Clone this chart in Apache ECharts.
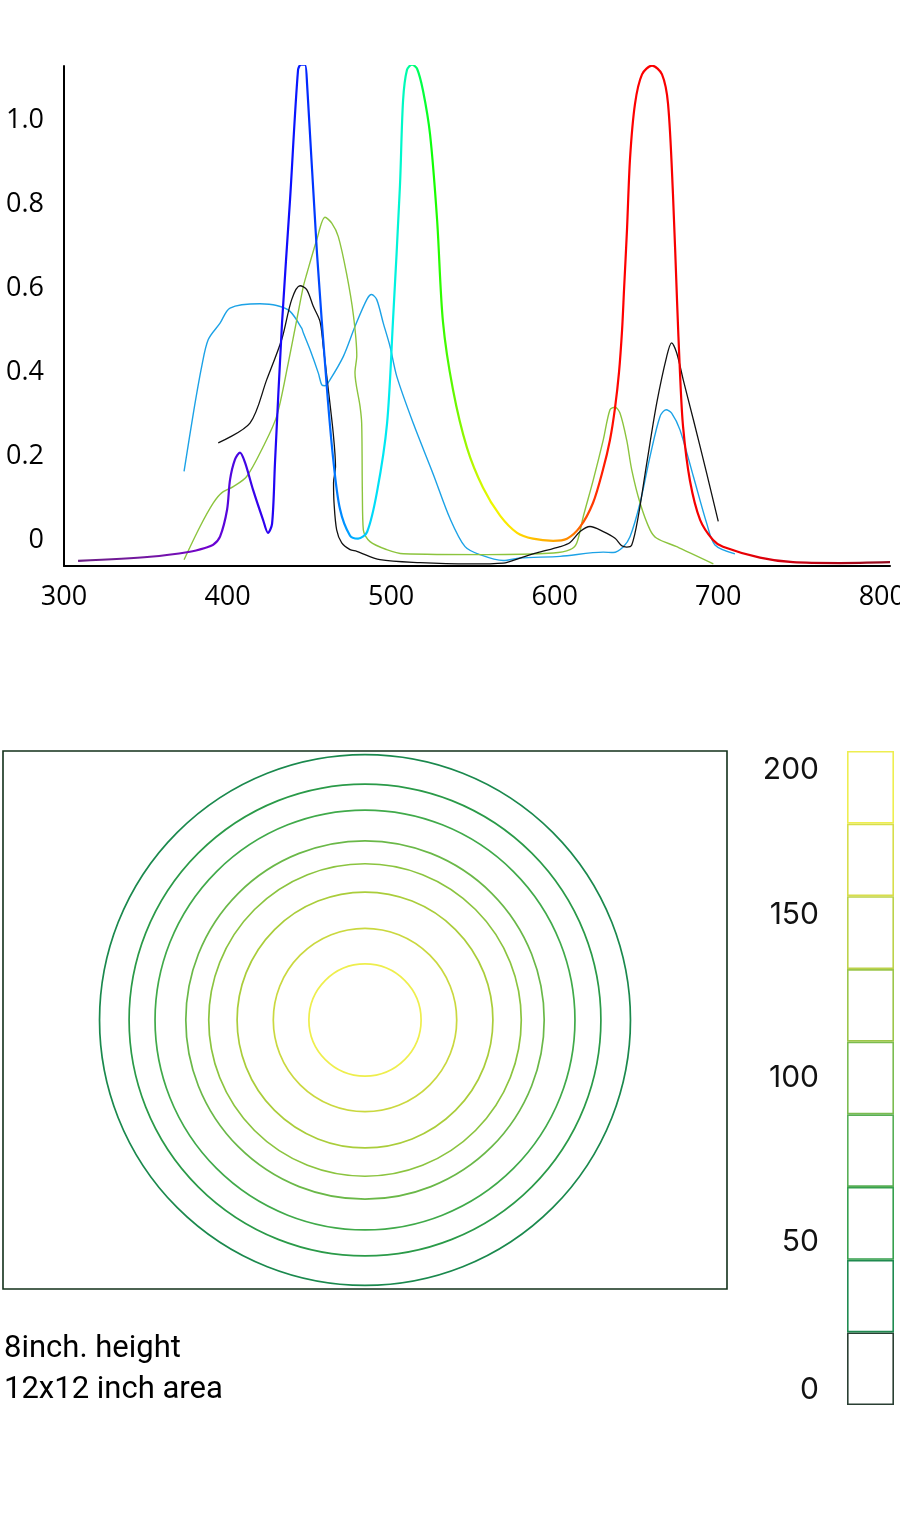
<!DOCTYPE html>
<html><head><meta charset="utf-8">
<script src="https://cdn.jsdelivr.net/npm/echarts@6/dist/echarts.min.js"></script>
<style>html,body{margin:0;padding:0;background:#fff}#c{width:900px;height:1520px}</style>
</head><body><div id="c"></div>
<script>
// ---------- data ----------
const xTicks = [300, 400, 500, 600, 700, 800];
const yTicks = [0, 0.2, 0.4, 0.6, 0.8, 1.0];

// combined LED spectrum (rainbow line): [wavelength nm, relative value]
const ledSpectrum = [[308.6,-0.048],[352.6,-0.038],[377.0,-0.026],[386.2,-0.017],[391.1,-0.010],[395.4,0.010],[399.7,0.074],[401.5,0.145],[404.5,0.193],[407.6,0.210],[410.7,0.186],[415.6,0.121],[421.7,0.050],[424.7,0.019],[427.2,0.040],[429.0,0.186],[433.3,0.519],[438.2,0.812],[443.1,1.121],[444.9,1.133],[447.3,1.133],[448.6,1.088],[454.7,0.683],[460.8,0.360],[464.5,0.198],[468.7,0.076],[474.9,0.012],[479.8,0.005],[485.3,0.021],[491.4,0.117],[497.5,0.279],[501.1,0.521],[505.4,0.845],[507.3,1.048],[509.7,1.121],[512.8,1.133],[515.8,1.124],[519.5,1.071],[523.8,0.967],[528.1,0.764],[531.7,0.521],[537.8,0.360],[546.4,0.221],[556.2,0.126],[566.6,0.060],[577.0,0.019],[586.7,0.005],[599.0,0.000],[607.5,0.005],[615.5,0.033],[623.4,0.090],[629.5,0.169],[633.8,0.240],[636.9,0.317],[639.3,0.400],[641.2,0.502],[642.4,0.598],[644.2,0.740],[646.1,0.912],[649.1,1.040],[653.4,1.110],[659.5,1.131],[665.6,1.110],[669.3,1.040],[672.3,0.826],[674.8,0.571],[676.6,0.400],[678.5,0.271],[682.7,0.143],[688.9,0.050],[696.8,0.002],[702.9,-0.014],[725.5,-0.040],[745.7,-0.051],[774.4,-0.053],[805,-0.051]];

const skyCurve = [[373.4,0.165],[379.1,0.304],[384.2,0.415],[388.2,0.479],[395.4,0.518],[401.5,0.554],[419.8,0.564],[430.0,0.560],[438.2,0.546],[445.3,0.506],[446.3,0.495],[450.4,0.455],[455.5,0.399],[457.6,0.371],[459.6,0.369],[462.6,0.383],[470.8,0.439],[477.9,0.510],[485.1,0.574],[488.1,0.586],[491.2,0.574],[495.2,0.518],[499.3,0.463],[503.4,0.392],[513.6,0.279],[525.8,0.158],[536.0,0.053],[545.2,-0.014],[554.3,-0.033],[568.6,-0.047],[578.8,-0.041],[603.3,-0.037],[629.7,-0.027],[635.8,-0.028],[642.0,-0.014],[646.1,0.010],[652.2,0.090],[658.3,0.201],[664.4,0.296],[668.1,0.312],[671.5,0.304],[676.6,0.264],[684.8,0.153],[692.9,0.042],[698.0,-0.010],[710.2,-0.031]];

const blackCurve = [[394.3,0.233],[413.7,0.280],[423.9,0.383],[433.1,0.479],[439.2,0.574],[444.3,0.607],[448.4,0.598],[452.4,0.558],[456.5,0.522],[458.5,0.463],[461.6,0.360],[464.6,0.256],[466.0,0.176],[464.8,0.138],[465.1,0.090],[466.7,0.026],[469.8,-0.005],[474.9,-0.021],[479.0,-0.025],[493.2,-0.045],[517.7,-0.052],[548.2,-0.055],[568.6,-0.053],[578.8,-0.041],[589.0,-0.029],[603.3,-0.014],[609.4,-0.004],[615.5,0.022],[621.6,0.034],[629.7,0.022],[636.9,0.006],[641.0,-0.012],[644.0,-0.015],[647.1,-0.010],[651.1,0.058],[656.3,0.185],[662.4,0.328],[668.5,0.439],[671.5,0.471],[674.6,0.447],[678.6,0.383],[684.8,0.288],[692.9,0.161],[700.0,0.046]];

const oliveCurve = [[373.4,-0.045],[383.2,0.034],[391.3,0.090],[396.4,0.114],[403.5,0.129],[411.7,0.153],[421.9,0.225],[430.0,0.296],[437.1,0.423],[442.3,0.526],[446.3,0.605],[448.4,0.635],[454.5,0.716],[459.6,0.770],[463.7,0.756],[467.7,0.724],[472.8,0.635],[476.9,0.538],[479.0,0.441],[477.9,0.400],[481.0,0.320],[482.0,0.279],[482.4,0.117],[483.0,0.026],[487.1,-0.002],[497.3,-0.021],[507.5,-0.031],[558.4,-0.033],[599.2,-0.029],[609.4,-0.021],[613.5,-0.005],[617.5,0.058],[623.6,0.145],[629.7,0.240],[633.8,0.312],[636.9,0.318],[639.9,0.304],[644.0,0.240],[647.1,0.169],[652.2,0.090],[658.3,0.026],[662.4,0.006],[674.6,-0.014],[697.0,-0.055]];

// contour plot (inches, 12x12 area) and colour-bar levels
const contourLevels = [22.2, 44.4, 66.7, 88.9, 111.1, 133.3, 155.6, 177.8];
const contourRadii  = [4.40, 3.91, 3.48, 2.97, 2.59, 2.12, 1.52, 0.93];
const colorbarLevels = [0, 22.2, 44.4, 66.7, 88.9, 111.1, 133.3, 155.6, 177.8, 200];
const colorbarTicks = [0, 50, 100, 150, 200];
const noteLines = ['8inch. height', '12x12 inch area'];

// ---------- styles ----------
const rainbowStops = [[308,'#6c1f84'],[360,'#7414a8'],[390,'#7000d0'],[405,'#4c08e0'],[425,'#2a00f0'],[440,'#0a10ff'],[452,'#0030ff'],[463,'#0068ff'],[473,'#0098ff'],[480,'#00b8ff'],[490,'#00dcf8'],[500,'#00eeee'],[507,'#00f8c8'],[512,'#00ff90'],[518,'#00ff50'],[526,'#10ff00'],[538,'#60f800'],[550,'#b8f800'],[562,'#eef800'],[574,'#ffe400'],[588,'#ffbc00'],[600,'#ffa400'],[610,'#ff8000'],[618,'#ff5000'],[628,'#ff2000'],[640,'#ff0000'],[705,'#f00000'],[740,'#d00010'],[805,'#8e0a1e']];
const barColors = ['#2a3f33','#1f8a50','#36a04e','#58af56','#7bbc50','#9cc64a','#bcd24a','#d8de4c','#eeee50'];
const ringColors = ['#1a894d','#2a9a48','#40aa4a','#6ab848','#8bc43f','#aacd3a','#cad83f','#eeee4c'];

const xs = ledSpectrum.map(p => p[0]);
const x0 = Math.min(...xs), x1 = Math.max(...xs);
const rainbow = {
  type: 'linear', x: 0, y: 0, x2: 1, y2: 0,
  colorStops: rainbowStops.map(([nm, c]) => ({offset: Math.min(1, Math.max(0, (nm - x0) / (x1 - x0))), color: c}))
};

const chart = echarts.init(document.getElementById('c'), null, {renderer: 'canvas'});
const topFont = {fontFamily: 'Open Sans', fontSize: 27, color: '#000'};

const lineBase = {type: 'line', xAxisIndex: 0, yAxisIndex: 0, symbol: 'none', smooth: 0.3, silent: true};

chart.setOption({
  animation: false,
  backgroundColor: '#fff',
  grid: [
    {left: 64, right: 10, top: 66, height: 500, outerBoundsMode: 'none', containLabel: false},
    {left: 3, top: 751, width: 724, height: 538, outerBoundsMode: 'none', show: true, borderColor: '#12301a', borderWidth: 1.6, backgroundColor: 'rgba(0,0,0,0)'},
    {left: 847, top: 751, width: 47, height: 654, outerBoundsMode: 'none'}
  ],
  xAxis: [
    {gridIndex: 0, type: 'value', min: 300, max: 805,
      axisLine: {onZero: false, lineStyle: {color: '#000', width: 2}},
      axisTick: {show: false}, splitLine: {show: false},
      axisLabel: Object.assign({margin: 18, customValues: xTicks}, topFont)},
    {gridIndex: 1, type: 'value', min: -6, max: 6, show: false},
    {gridIndex: 2, type: 'category', data: ['cb'], show: false}
  ],
  yAxis: [
    {gridIndex: 0, type: 'value', min: -0.06, max: 1.13,
      axisLine: {show: true, onZero: false, lineStyle: {color: '#000', width: 2}},
      axisTick: {show: false}, splitLine: {show: false},
      axisLabel: Object.assign({margin: 20, customValues: yTicks, padding: [6, 0, 0, 0],
        formatter: v => (v === 0 ? '0' : v.toFixed(1))}, topFont)},
    {gridIndex: 1, type: 'value', min: -6, max: 6, show: false},
    {gridIndex: 2, type: 'value', min: 0, max: 200, interval: 50,
      axisLine: {show: false}, axisTick: {show: false}, splitLine: {show: false},
      axisLabel: {margin: 28, fontFamily: 'Inter', fontSize: 30, color: '#111',
        customValues: colorbarTicks, padding: [4, 0, 0, 0],
        verticalAlignMinLabel: 'bottom', verticalAlignMaxLabel: 'top'}}
  ],
  series: [
    Object.assign({}, lineBase, {name: 'sky', data: skyCurve, lineStyle: {color: '#1ca2e6', width: 1.4}, z: 2}),
    Object.assign({}, lineBase, {name: 'olive', data: oliveCurve, lineStyle: {color: '#8cc43e', width: 1.4}, z: 2}),
    Object.assign({}, lineBase, {name: 'black', data: blackCurve, lineStyle: {color: '#111', width: 1.3}, z: 2}),
    Object.assign({}, lineBase, {name: 'led', data: ledSpectrum, lineStyle: {color: rainbow, width: 2.2}, z: 3}),
    {
      type: 'custom', xAxisIndex: 1, yAxisIndex: 1, silent: true,
      data: contourRadii.map((r, i) => [r, contourLevels[i]]),
      renderItem: (params, api) => {
        const c = api.coord([0, 0]);
        const r = api.size([api.value(0), 0])[0];
        return {type: 'circle', shape: {cx: c[0], cy: c[1], r: r},
          style: {fill: 'rgba(0,0,0,0)', stroke: ringColors[params.dataIndex], lineWidth: 1.7}};
      }
    }
  ].concat(colorbarLevels.slice(0, -1).map((lo, i) => ({
    type: 'bar', xAxisIndex: 2, yAxisIndex: 2, stack: 'cb', silent: true,
    barWidth: '100%', data: [colorbarLevels[i + 1] - lo],
    itemStyle: {color: 'rgba(0,0,0,0)', borderColor: barColors[i], borderWidth: 1.6}
  }))),
  graphic: noteLines.map((t, i) => ({
    type: 'text', left: 4, top: 1334 + i * 41,
    style: {text: t, font: '31px Roboto', fill: '#000'}
  }))
});
</script>
</body></html>
